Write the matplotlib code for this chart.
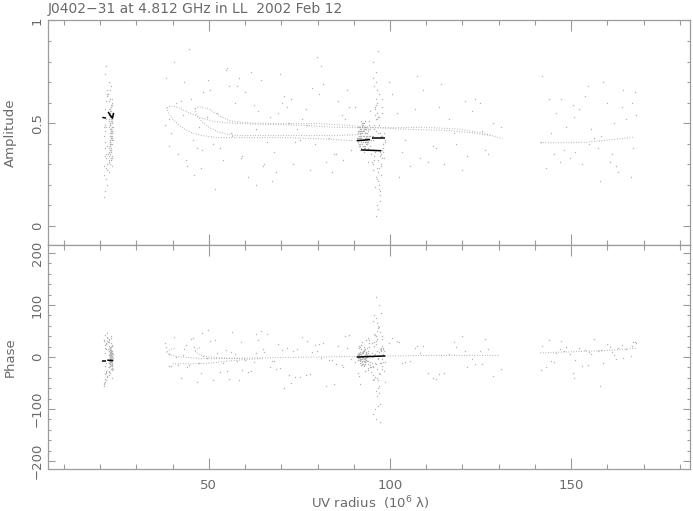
import matplotlib
matplotlib.use("Agg")
import matplotlib.pyplot as plt
from matplotlib.ticker import MultipleLocator, FixedLocator

# ---------------- data ----------------
title = "J0402\u221231 at 4.812 GHz in LL  2002 Feb 12"

# short-baseline cluster
uv_a = [22.8, 23.1, 21.4, 22.5, 23.3, 22.9, 21.1, 23.0, 22.6, 23.4,
        22.2, 21.7, 23.2, 22.9, 22.4, 23.5, 21.3, 22.7, 23.0, 22.8,
        23.3, 21.9, 22.5, 23.1, 22.6, 21.2, 23.4, 22.9, 22.3, 23.0,
        21.6, 22.8, 23.2, 22.5, 21.0, 23.3, 22.7, 22.9, 21.8, 23.1,
        22.4, 23.4, 22.6, 21.5, 23.0, 22.8, 22.2, 23.2, 21.3, 22.9,
        23.5, 22.6, 21.9, 23.1, 22.7, 22.4, 23.3, 21.4, 22.8, 23.0,
        22.5, 21.7, 23.2, 22.9, 22.3, 23.4, 21.1, 22.7, 23.0, 22.6,
        21.8, 23.3, 22.8, 22.5, 21.6, 23.1, 22.9, 22.4, 21.2, 23.2,
        22.7, 23.0, 21.5, 22.6, 23.4, 22.8, 21.9, 23.1, 22.3, 22.9,
        21.4, 23.3, 22.5, 22.8, 21.0, 23.0, 22.6, 23.2, 21.7, 22.7,
        23.5, 22.4, 21.3, 22.9, 23.1, 22.6, 21.8, 23.3, 22.8, 22.5,
        21.6, 23.0, 22.7, 23.4, 21.1, 22.9, 22.3, 23.2, 21.9, 22.6]
amp_a = [0.45, 0.52, 0.38, 0.61, 0.33, 0.47, 0.29, 0.56, 0.42, 0.50,
         0.64, 0.35, 0.44, 0.58, 0.31, 0.48, 0.41, 0.53, 0.37, 0.66,
         0.46, 0.27, 0.55, 0.40, 0.49, 0.34, 0.60, 0.43, 0.51, 0.36,
         0.23, 0.57, 0.45, 0.32, 0.48, 0.62, 0.39, 0.54, 0.30, 0.47,
         0.70, 0.42, 0.50, 0.28, 0.59, 0.44, 0.35, 0.52, 0.46, 0.38,
         0.55, 0.41, 0.63, 0.33, 0.49, 0.26, 0.45, 0.57, 0.40, 0.51,
         0.36, 0.48, 0.43, 0.68, 0.31, 0.53, 0.44, 0.39, 0.58, 0.47,
         0.20, 0.50, 0.42, 0.34, 0.61, 0.45, 0.37, 0.54, 0.49, 0.29,
         0.56, 0.43, 0.52, 0.35, 0.46, 0.40, 0.64, 0.32, 0.48, 0.44,
         0.74, 0.51, 0.38, 0.55, 0.25, 0.47, 0.41, 0.59, 0.33, 0.50,
         0.42, 0.36, 0.17, 0.53, 0.45, 0.62, 0.39, 0.48, 0.30, 0.57,
         0.78, 0.43, 0.49, 0.34, 0.14, 0.46, 0.52, 0.40, 0.66, 0.37]
phs_a = [-5, 12, -18, 3, 22, -9, 30, -2, 8, -25,
         15, -12, 0, 27, -7, 5, -33, 10, -15, 19,
         -3, 38, -20, 7, -10, 24, -6, 1, -28, 13,
         -45, 9, -14, 4, 33, -22, 16, -4, -38, 6,
         21, -11, 2, -30, 11, -8, 28, -17, 43, -1,
         -24, 14, -6, 36, -13, 3, -40, 18, -2, 9,
         -19, 25, -7, 6, -35, 12, -52, 0, 20, -9,
         31, -16, 5, -26, 15, -3, 40, -12, 8, -21,
         17, -5, 26, -31, 2, -14, 47, -8, 11, -23,
         -48, 7, 35, -18, -56, 4, -10, 23, -29, 13,
         -1, 29, -42, 10, -15, 18, -37, 5, -6, 32,
         -27, 14, -11, 21, -50, 3, -20, 8, 37, -4]

# ~95 Mlambda cluster
uv_b = [91.5, 92.8, 96.4, 93.3, 97.6, 91.9, 95.8, 92.4, 93.9, 96.9,
        91.2, 94.2, 97.2, 92.6, 95.3, 93.6, 98.1, 91.7, 96.1, 92.9,
        94.6, 97.8, 91.4, 93.1, 96.6, 92.2, 95.5, 93.8, 98.4, 91.8,
        92.5, 96.2, 93.4, 97.4, 91.3, 94.0, 95.9, 92.7, 97.0, 93.2,
        91.6, 96.8, 92.3, 94.4, 98.0, 93.0, 95.6, 91.1, 96.3, 92.8,
        93.7, 97.5, 91.9, 95.2, 92.1, 96.7, 93.5, 98.6, 91.5, 94.8,
        92.9, 97.1, 93.3, 95.7, 91.0, 96.0, 92.6, 97.9, 93.9, 91.8,
        95.4, 92.4, 96.5, 93.1, 98.2, 91.4, 94.1, 97.3, 92.0, 95.1,
        93.6, 96.9, 91.7, 92.7, 97.7, 93.4, 95.8, 91.2, 96.4, 92.5,
        94.3, 97.0, 91.6, 93.0, 96.1, 92.2, 98.3, 93.8, 95.3, 91.9,
        92.8, 96.6, 93.2, 97.6, 91.3, 94.7, 95.9, 92.3, 97.2, 93.5,
        91.8, 96.2, 92.9, 95.0, 98.5, 93.7, 91.5, 96.8, 92.6, 94.5,
        97.4, 93.1, 91.1, 95.6, 92.1, 96.3, 93.9, 97.8, 91.7, 92.4,
        95.2, 96.0, 93.3, 91.4, 97.5, 92.7, 94.9, 96.7, 93.6, 91.9,
        92.2, 95.7, 97.1, 93.0, 91.6, 96.5, 92.8, 94.2, 98.0, 93.4,
        91.2, 95.4, 96.9, 92.5, 93.8, 97.3, 91.8, 95.1, 92.0, 96.2,
        93.5, 94.6, 97.9, 91.3, 92.9, 96.4, 93.2, 95.5, 91.6, 97.0,
        92.3, 93.7, 96.6, 91.9, 95.8, 92.6, 97.7, 93.1, 91.5, 96.1]
amp_b = [0.44, 0.39, 0.52, 0.47, 0.35, 0.42, 0.58, 0.46, 0.31, 0.49,
         0.41, 0.37, 0.45, 0.50, 0.27, 0.43, 0.40, 0.48, 0.62, 0.36,
         0.44, 0.33, 0.46, 0.51, 0.22, 0.42, 0.47, 0.38, 0.45, 0.40,
         0.49, 0.70, 0.43, 0.29, 0.46, 0.41, 0.54, 0.44, 0.18, 0.48,
         0.39, 0.45, 0.42, 0.56, 0.36, 0.47, 0.32, 0.43, 0.66, 0.50,
         0.40, 0.25, 0.45, 0.44, 0.38, 0.53, 0.42, 0.41, 0.48, 0.35,
         0.46, 0.12, 0.41, 0.49, 0.43, 0.75, 0.39, 0.44, 0.47, 0.37,
         0.30, 0.45, 0.60, 0.42, 0.38, 0.46, 0.51, 0.34, 0.44, 0.48,
         0.40, 0.20, 0.43, 0.47, 0.55, 0.41, 0.36, 0.45, 0.28, 0.42,
         0.49, 0.64, 0.44, 0.39, 0.46, 0.50, 0.33, 0.43, 0.80, 0.41,
         0.47, 0.26, 0.38, 0.44, 0.45, 0.42, 0.57, 0.48, 0.15, 0.40,
         0.43, 0.52, 0.46, 0.31, 0.42, 0.45, 0.39, 0.08, 0.44, 0.47,
         0.35, 0.41, 0.48, 0.68, 0.43, 0.23, 0.46, 0.37, 0.45, 0.50,
         0.42, 0.59, 0.44, 0.40, 0.30, 0.47, 0.43, 0.85, 0.41, 0.46,
         0.49, 0.34, 0.17, 0.45, 0.42, 0.55, 0.38, 0.44, 0.40, 0.48,
         0.43, 0.72, 0.28, 0.46, 0.41, 0.36, 0.47, 0.44, 0.51, 0.24,
         0.45, 0.39, 0.62, 0.42, 0.48, 0.10, 0.43, 0.37, 0.46, 0.53,
         0.40, 0.44, 0.32, 0.47, 0.19, 0.41, 0.58, 0.45, 0.43, 0.05]
phs_b = [3, -8, 12, -2, 18, -15, 5, 0, -22, 9,
         -5, 26, -11, 7, -35, 2, 15, -7, 40, -18,
         1, -3, 22, -9, 60, -14, 4, 11, -26, 6,
         -1, 75, -6, 14, -30, 8, -12, 19, -55, 3,
         10, -4, 28, -16, 5, -9, 45, 0, -40, 13,
         -7, 85, 2, -20, 16, -2, 33, -10, 6, -28,
         12, -90, -5, 21, 1, -13, 9, -24, 37, -3,
         -45, 7, 50, -8, 17, -1, 4, -33, 24, -11,
         0, 100, -6, 13, -17, 8, -38, 3, 65, -14,
         20, -70, 5, -2, 30, -9, 11, -25, -110, 2,
         -4, 55, 15, -12, 6, -20, 42, -7, -125, 10,
         -1, 25, -16, 8, -48, 3, 18, -60, 0, -9,
         14, -27, 6, 80, -3, 35, -13, 22, -5, 9,
         -18, 115, 2, -36, 12, -7, 27, -95, 4, -15,
         7, -42, 48, -4, 19, -23, 1, 32, -10, 5,
         -2, 70, -30, 11, -8, 16, -52, 0, 23, -65,
         9, -19, 40, -6, 13, -75, 4, 29, -11, 58,
         -3, 17, -44, 6, -100, 1, 34, -14, 8, -120]

# sparse points between the clusters
uv_m = [38.2, 41.5, 45.0, 47.8, 52.3, 55.6, 58.9, 62.4, 66.1, 69.7,
        73.2, 76.8, 80.3, 83.9, 87.5, 39.6, 43.1, 46.7, 50.2, 53.8,
        57.3, 60.9, 64.4, 68.0, 71.5, 75.1, 78.6, 82.2, 85.7, 89.3,
        40.4, 44.0, 48.5, 51.1, 54.7, 59.2, 63.6, 67.3, 70.8, 74.4,
        77.9, 81.5, 85.0, 88.6, 38.9, 42.3, 46.0, 49.4, 56.5, 61.7,
        65.2, 72.6, 79.3, 86.8, 100.5, 103.2, 106.8, 110.4, 114.1, 117.6,
        121.3, 124.8, 128.4, 101.9, 105.5, 109.0, 112.7, 116.2, 119.9, 123.5,
        127.0, 130.6, 99.8, 104.1, 108.2, 113.5, 118.3, 122.6, 126.1, 39.0,
        41.0, 43.8, 47.2, 49.9, 53.0, 56.0, 60.1, 63.0, 66.8, 70.2,
        73.9, 77.2, 80.9, 84.5, 88.0, 90.2, 37.8, 44.6, 51.8, 58.3,
        62.9, 68.6, 75.7, 83.1, 107.5, 115.0, 120.7, 125.5, 102.6, 111.8,
        42.8, 48.0, 55.0, 64.9, 72.0, 79.9, 87.1, 45.6, 57.9, 69.1]
amp_m = [0.72, 0.35, 0.62, 0.28, 0.55, 0.68, 0.33, 0.59, 0.41, 0.74,
         0.30, 0.57, 0.64, 0.26, 0.52, 0.45, 0.70, 0.38, 0.66, 0.32,
         0.60, 0.24, 0.71, 0.36, 0.58, 0.42, 0.67, 0.31, 0.61, 0.37,
         0.80, 0.29, 0.65, 0.40, 0.76, 0.34, 0.56, 0.22, 0.63, 0.47,
         0.27, 0.69, 0.35, 0.58, 0.39, 0.61, 0.25, 0.53, 0.44, 0.75,
         0.30, 0.62, 0.40, 0.54, 0.64, 0.36, 0.57, 0.31, 0.69, 0.45,
         0.34, 0.60, 0.50, 0.55, 0.29, 0.66, 0.38, 0.52, 0.27, 0.62,
         0.35, 0.48, 0.70, 0.42, 0.33, 0.58, 0.40, 0.56, 0.37, 0.52,
         0.60, 0.32, 0.48, 0.71, 0.38, 0.45, 0.65, 0.20, 0.53, 0.60,
         0.41, 0.49, 0.78, 0.35, 0.66, 0.58, 0.49, 0.86, 0.18, 0.72,
         0.47, 0.26, 0.52, 0.43, 0.73, 0.30, 0.61, 0.46, 0.24, 0.39,
         0.54, 0.37, 0.77, 0.29, 0.50, 0.82, 0.32, 0.42, 0.68, 0.55]
phs_m = [20, -15, 35, -30, 8, -42, 28, -10, 45, -22,
         12, -35, 25, -5, 40, -18, 15, -48, 30, -12,
         5, -28, 50, -8, 18, -38, 10, -55, 22, -3,
         38, -20, 2, -45, 14, -25, 32, -7, -60, 16,
         -33, 26, -14, 42, 6, -40, 20, -2, 48, -26,
         9, -50, 24, -16, 36, -11, 18, -30, 4, 28,
         -20, 12, -36, 30, -8, 22, -42, 6, 40, -14,
         15, -24, 26, -10, 8, -32, 20, -4, 34, -18,
         0, 24, -12, 52, -28, 10, -6, 44, -20, 14,
         -38, 30, -2, -52, 18, -9, 27, -16, 33, -44,
         7, -23, 39, -5, 21, -31, 12, -14, 28, -40,
         3, 46, -26, 16, -35, 11, -19, 36, -8, 25]

# longest baselines
uv_r = [142.0, 144.5, 147.2, 149.8, 152.1, 154.6, 157.3, 159.9, 162.4, 165.0,
        167.6, 143.1, 145.9, 148.5, 151.0, 153.7, 156.2, 158.8, 161.3, 163.9,
        166.5, 141.6, 146.8, 150.4, 155.5, 160.6, 164.2, 168.0, 148.0, 157.9,
        143.8, 152.9, 161.9, 166.9, 145.2, 155.0, 163.0, 150.9, 158.3, 167.2]
amp_r = [0.73, 0.45, 0.62, 0.33, 0.57, 0.68, 0.38, 0.60, 0.29, 0.52,
         0.65, 0.28, 0.55, 0.48, 0.36, 0.63, 0.43, 0.70, 0.35, 0.58,
         0.24, 0.41, 0.31, 0.59, 0.47, 0.31, 0.66, 0.54, 0.37, 0.22,
         0.62, 0.30, 0.50, 0.60, 0.35, 0.40, 0.26, 0.53, 0.44, 0.38]
phs_r = [22, -8, 30, 5, 18, -15, 12, 25, -3, 16,
         28, -20, 8, 20, -5, 14, 35, -12, 10, 24,
         2, -25, 15, -30, 6, 19, -2, 26, 11, -55,
         32, -18, 4, 22, -10, 9, 17, -40, 13, 29]

# averaged baseline tracks (dotted grey curves)
trk1_uv  = [38.4, 39.5, 41.0, 43.5, 47.0, 51.0, 56.0, 65.0, 75.0, 85.0, 92.0, 100.0, 110.0, 120.0, 126.0, 131.0]
trk1_amp = [0.575, 0.585, 0.58, 0.56, 0.53, 0.51, 0.50, 0.495, 0.49, 0.48, 0.478, 0.478, 0.48, 0.47, 0.45, 0.425]
trk2_uv  = [38.4, 38.8, 40.0, 42.5, 45.0, 48.0, 52.0, 60.0, 70.0, 80.0, 90.0]
trk2_amp = [0.575, 0.55, 0.52, 0.48, 0.455, 0.44, 0.43, 0.43, 0.43, 0.425, 0.415]
trk3_uv  = [46.2, 47.5, 50.0, 53.0, 56.0, 62.0, 70.0, 80.0, 88.0, 95.0, 105.0, 115.0, 122.0, 128.0]
trk3_amp = [0.57, 0.58, 0.57, 0.535, 0.51, 0.50, 0.498, 0.498, 0.49, 0.48, 0.47, 0.465, 0.455, 0.44]
trk4_uv  = [46.2, 46.5, 48.0, 50.0, 53.0, 57.0, 65.0, 75.0, 85.0, 92.0]
trk4_amp = [0.57, 0.545, 0.51, 0.48, 0.455, 0.44, 0.44, 0.44, 0.44, 0.445]
trk5_uv  = [141.5, 148.0, 154.0, 160.0, 164.0, 167.5]
trk5_amp = [0.405, 0.405, 0.407, 0.418, 0.425, 0.432]

ptrk1_uv  = [38.4, 39.5, 41.0]
ptrk1_phs = [10, 15, 17]
ptrk2_uv  = [38.4, 39.0, 41.0, 44.0, 48.0, 52.0, 60.0, 70.0, 80.0, 90.0, 100.0, 110.0, 120.0, 130.0]
ptrk2_phs = [10, 5, 1, -1, -3, -3, -2, -1, 0, 1, 2, 3, 3, 3]
ptrk3_uv  = [40.0, 45.0, 50.0, 55.0, 60.0, 65.0]
ptrk3_phs = [-13, -13, -12, -8, -5, -3]
ptrk4_uv  = [46.2, 47.0, 48.0]
ptrk4_phs = [12, 17, 18]
ptrk5_uv  = [46.2, 47.0, 49.0, 52.0, 56.0, 60.0]
ptrk5_phs = [12, 6, 1, -1, -3, -3]
ptrk6_uv  = [141.5, 150.0, 158.0, 163.0, 168.0]
ptrk6_phs = [8, 10, 12, 14, 17]

# model (black)
mod1_uv, mod1_amp = [20.6, 21.6], [0.528, 0.525]
mod2_uv, mod2_amp = [22.2, 22.9, 23.4, 23.7], [0.555, 0.535, 0.525, 0.55]
mod3_uv, mod3_amp = [90.8, 94.5], [0.415, 0.42]
mod3b_uv, mod3b_amp = [95.0, 98.7], [0.428, 0.428]
mod4_uv, mod4_amp = [92.0, 97.6], [0.37, 0.366]
pmod1_uv, pmod1_phs = [20.5, 21.6], [-8, -8]
pmod2_uv, pmod2_phs = [22.0, 23.6], [-6, -7]
pmod3_uv, pmod3_phs = [90.8, 98.7], [0, 2]

# ---------------- styling ----------------
TXT = "#6a6a6a"
FRAME = "#9c9c9c"
DOT = "#b4b4b4"
plt.rcParams["font.family"] = ["DejaVu Sans"]
plt.rcParams["font.size"] = 9.5

W, H = 693, 511
fig = plt.figure(figsize=(W / 100, H / 100), dpi=100)
L, R = 48, 690
ax1 = fig.add_axes([L / W, 1 - 245 / H, (R - L) / W, (245 - 20.5) / H])
ax2 = fig.add_axes([L / W, 1 - 469 / H, (R - L) / W, (469 - 245) / H])

groups = [(uv_a, amp_a, phs_a), (uv_b, amp_b, phs_b), (uv_m, amp_m, phs_m), (uv_r, amp_r, phs_r)]
for u, a, p in groups:
    ax1.plot(u, a, ls="none", marker="s", ms=0.9, mew=0, color=DOT)
    ax2.plot(u, p, ls="none", marker="s", ms=0.9, mew=0, color=DOT)

dotted = dict(ls=(0, (0.7, 1.6)), lw=0.8, color="#aaaaaa")
for u, a in [(trk1_uv, trk1_amp), (trk2_uv, trk2_amp), (trk3_uv, trk3_amp),
             (trk4_uv, trk4_amp), (trk5_uv, trk5_amp)]:
    ax1.plot(u, a, **dotted)
for u, p in [(ptrk1_uv, ptrk1_phs), (ptrk2_uv, ptrk2_phs), (ptrk3_uv, ptrk3_phs),
             (ptrk4_uv, ptrk4_phs), (ptrk5_uv, ptrk5_phs), (ptrk6_uv, ptrk6_phs)]:
    ax2.plot(u, p, **dotted)

for u, a in [(mod1_uv, mod1_amp), (mod2_uv, mod2_amp), (mod3_uv, mod3_amp),
             (mod3b_uv, mod3b_amp), (mod4_uv, mod4_amp)]:
    ax1.plot(u, a, color="black", lw=1.1, solid_capstyle="butt")
for u, p in [(pmod1_uv, pmod1_phs), (pmod2_uv, pmod2_phs), (pmod3_uv, pmod3_phs)]:
    ax2.plot(u, p, color="black", lw=1.1, solid_capstyle="butt")

for ax in (ax1, ax2):
    ax.set_xlim(5.6, 182.8)
    for s in ax.spines.values():
        s.set_color(FRAME)
        s.set_linewidth(0.9)
    ax.xaxis.set_major_locator(MultipleLocator(50))
    ax.xaxis.set_minor_locator(MultipleLocator(10))
    ax.tick_params(axis="both", which="both", direction="in", top=True, right=True,
                   color=FRAME, labelcolor=TXT, width=0.8)
    ax.tick_params(axis="x", which="major", length=8)
    ax.tick_params(axis="x", which="minor", length=3.5)
    ax.tick_params(axis="y", which="major", length=5)
    ax.tick_params(axis="y", which="minor", length=2.5)
    ax.tick_params(axis="y", labelrotation=90, pad=3)

ax1.set_ylim(-0.093, 1.0)
ax1.yaxis.set_major_locator(FixedLocator([0, 0.5, 1]))
ax1.yaxis.set_minor_locator(MultipleLocator(0.1))
ax1.set_yticklabels(["0", "0.5", "1"], rotation=90, va="center")
ax1.tick_params(axis="x", labelbottom=False)

ax2.set_ylim(-215.4, 215.4)
ax2.yaxis.set_minor_locator(MultipleLocator(20))
ax2.set_yticks([-200, -100, 0, 100, 200])
ax2.set_yticklabels(["\u2212200", "\u2212100", "0", "100", "200"], rotation=90, va="center")
ax2.tick_params(axis="x", pad=7)

fig.text(10 / W, 1 - 132.5 / H, "Amplitude", rotation=90, ha="center", va="center", color=TXT)
fig.text(10 / W, 1 - 357 / H, "Phase", rotation=90, ha="center", va="center", color=TXT)
fig.text(370 / W, 1 - 503 / H, "UV radius  (10$^{6}$ \u03bb)", ha="center", va="center", color=TXT)
fig.text(L / W, 1 - 9 / H, title, ha="left", va="center", color=TXT, fontsize=10)

fig.savefig("out.png", dpi=100)
